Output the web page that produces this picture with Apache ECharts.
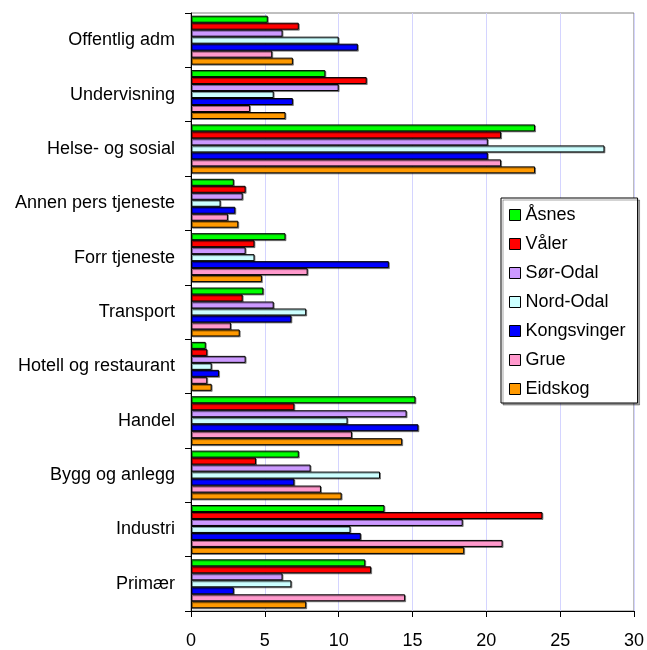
<!DOCTYPE html>
<html>
<head>
<meta charset="utf-8">
<script src="https://cdn.jsdelivr.net/npm/echarts@6/dist/echarts.min.js"></script>
<style>
  html, body { margin: 0; padding: 0; background: #fff; }
  #chart { width: 647px; height: 650px; }
</style>
</head>
<body>
<div id="chart"></div>
<script>
// categories top to bottom
const categories = [
  "Offentlig adm", "Undervisning", "Helse- og sosial", "Annen pers tjeneste",
  "Forr tjeneste", "Transport", "Hotell og restaurant", "Handel",
  "Bygg og anlegg", "Industri", "Primær"
];

const asnes       = [5.2, 9.1, 23.3, 2.9, 6.4, 4.9, 1.0, 15.2, 7.3, 13.1, 11.8];
const valer       = [7.3, 11.9, 21.0, 3.7, 4.3, 3.5, 1.1, 7.0, 4.4, 23.8, 12.2];
const sorOdal     = [6.2, 10.0, 20.1, 3.5, 3.7, 5.6, 3.7, 14.6, 8.1, 18.4, 6.2];
const nordOdal    = [10.0, 5.6, 28.0, 2.0, 4.3, 7.8, 1.4, 10.6, 12.8, 10.8, 6.8];
const kongsvinger = [11.3, 6.9, 20.1, 3.0, 13.4, 6.8, 1.9, 15.4, 7.0, 11.5, 2.9];
const grue        = [5.5, 4.0, 21.0, 2.5, 7.9, 2.7, 1.1, 10.9, 8.8, 21.1, 14.5];
const eidskog     = [6.9, 6.4, 23.3, 3.2, 4.8, 3.3, 1.4, 14.3, 10.2, 18.5, 7.8];

const xTicks = [0, 5, 10, 15, 20, 25, 30];

const seriesDefs = [
  { name: "Åsnes", data: asnes, color: "#00ff00" },
  { name: "Våler", data: valer, color: "#ff0000" },
  { name: "Sør-Odal", data: sorOdal, color: "#cc99ff" },
  { name: "Nord-Odal", data: nordOdal, color: "#ccffff" },
  { name: "Kongsvinger", data: kongsvinger, color: "#0000ff" },
  { name: "Grue", data: grue, color: "#ff99cc" },
  { name: "Eidskog", data: eidskog, color: "#ff9900" }
];

const font = "Liberation Sans, Arial, sans-serif";
const chart = echarts.init(document.getElementById("chart"));

chart.setOption({
  animation: false,
  textStyle: { fontFamily: font, color: "#000" },
  grid: {
    left: 191, right: 11, top: 13, bottom: 36,
    show: true, borderColor: "#808080", borderWidth: 1
  },
  legend: {
    orient: "vertical",
    left: 501, top: 198,
    icon: "rect",
    itemWidth: 11, itemHeight: 11, itemGap: 9,
    padding: [7, 12, 4, 8],
    backgroundColor: "#fff",
    borderColor: "#000", borderWidth: 1,
    shadowColor: "rgba(0,0,0,0.35)", shadowOffsetX: 2, shadowOffsetY: 2, shadowBlur: 0,
    itemStyle: { borderColor: "#000", borderWidth: 1, shadowBlur: 0, shadowOffsetX: 0, shadowOffsetY: 0 },
    textStyle: { fontFamily: font, fontSize: 18, color: "#000", lineHeight: 20 },
    data: seriesDefs.map((s) => s.name)
  },
  xAxis: {
    type: "value",
    min: xTicks[0],
    max: xTicks[xTicks.length - 1],
    interval: 5,
    axisLine: { show: true, lineStyle: { color: "#000", width: 1 } },
    axisTick: { show: true, length: 6, lineStyle: { color: "#000" } },
    axisLabel: { fontSize: 18, color: "#000", margin: 21, fontFamily: font },
    splitLine: { show: true, lineStyle: { color: "#d4d4ff", width: 1 } }
  },
  yAxis: {
    type: "category",
    inverse: true,
    data: categories,
    axisLine: { show: true, lineStyle: { color: "#000", width: 1 } },
    axisTick: { show: true, length: 6, lineStyle: { color: "#000" } },
    axisLabel: { fontSize: 18, color: "#000", margin: 16, fontFamily: font },
    splitLine: { show: false }
  },
  series: seriesDefs.map((s) => ({
    name: s.name,
    type: "bar",
    data: s.data,
    barGap: "0%",
    barCategoryGap: "10%",
    itemStyle: {
      color: s.color,
      borderColor: "#000",
      borderWidth: 1,
      shadowColor: "rgba(0,0,0,0.4)",
      shadowOffsetX: 1,
      shadowOffsetY: 1,
      shadowBlur: 0
    }
  }))
});
</script>
</body>
</html>
